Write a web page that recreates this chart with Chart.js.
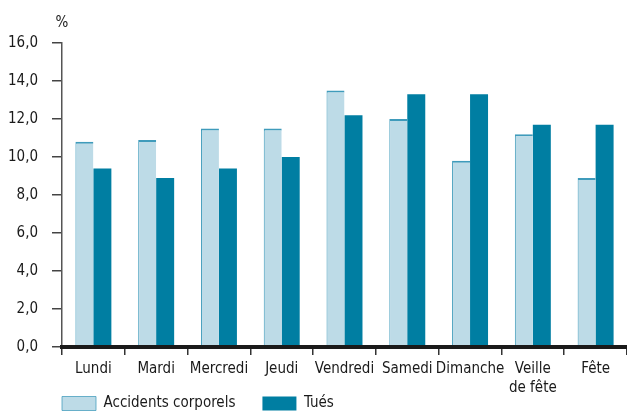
<!DOCTYPE html>
<html>
<head>
<meta charset="utf-8">
<script src="https://cdn.jsdelivr.net/npm/chart.js@4"></script>
<style>
  html, body { margin: 0; padding: 0; background: #fff; overflow: hidden; }
  #wrap { width: 627px; height: 411px; position: relative; }
</style>
</head>
<body>
<div id="wrap"><canvas id="c" width="627" height="411"></canvas></div>
<script>
const categories = ['Lundi', 'Mardi', 'Mercredi', 'Jeudi', 'Vendredi', 'Samedi', 'Dimanche', ['Veille', 'de fête'], 'Fête'];
const accidents = [10.8, 10.9, 11.5, 11.5, 13.5, 12.0, 9.8, 11.2, 8.9];
const tues = [9.4, 8.9, 9.4, 10.0, 12.2, 13.3, 13.3, 11.7, 11.7];
const seriesNames = ['Accidents corporels', 'Tués'];
const yMin = 0, yMax = 16, yStep = 2;
const unitLabel = '%';

const FONT = '"Liberation Sans Narrow", "DejaVu Sans Condensed", sans-serif';
const TEXT = '#1a1a1a';
const LEGEND_PAD = 27;

const unitPlugin = {
  id: 'unitLabel',
  afterDraw(chart) {
    const ctx = chart.ctx;
    ctx.save();
    ctx.font = '15px ' + FONT;
    ctx.fillStyle = TEXT;
    ctx.textAlign = 'center';
    ctx.textBaseline = 'middle';
    ctx.fillText(unitLabel, 62, 23);
    ctx.restore();
  }
};

const legendPlace = {
  id: 'legendPlace',
  beforeLayout(chart) {
    const lg = chart.legend;
    if (lg && !lg._patched) {
      const fit = lg.fit.bind(lg);
      lg.fit = function () { fit(); this.height = 14; };
      lg._patched = true;
    }
  },
  afterLayout(chart) {
    const lg = chart.legend;
    if (lg) {
      lg.left = 62 - LEGEND_PAD;
      lg.top = 396 - LEGEND_PAD;
      lg.bottom = 411;
      lg.height = lg.bottom - lg.top;
    }
  }
};

new Chart(document.getElementById('c'), {
  type: 'bar',
  data: {
    labels: categories,
    datasets: [
      {
        label: seriesNames[0],
        data: accidents,
        backgroundColor: '#bddbe7',
        borderColor: '#3f9bbb',
        borderWidth: { left: 1, top: 2, right: 0, bottom: 0 },
        borderSkipped: false
      },
      {
        label: seriesNames[1],
        data: tues,
        backgroundColor: '#007ea2',
        borderWidth: 0
      }
    ]
  },
  options: {
    responsive: false,
    animation: false,
    devicePixelRatio: 1,
    layout: { padding: { top: 43, left: 0, right: 0, bottom: 0 } },
    datasets: { bar: { categoryPercentage: 0.573, barPercentage: 1.0 } },
    plugins: {
      tooltip: { enabled: false },
      legend: {
        position: 'bottom',
        align: 'start',
        labels: {
          boxWidth: 34,
          boxHeight: 14,
          padding: LEGEND_PAD,
          color: TEXT,
          font: { family: FONT, size: 15 }
        }
      }
    },
    scales: {
      x: {
        grid: {
          z: 1,
          offset: true,
          drawOnChartArea: false,
          drawTicks: true,
          tickLength: 8,
          color: '#333',
          lineWidth: 1.5
        },
        border: { display: true, color: '#1a1a1a', width: 4, z: 2 },
        ticks: {
          color: TEXT,
          font: { family: FONT, size: 15, lineHeight: 1.25 },
          padding: 5,
          maxRotation: 0,
          autoSkip: false
        },
        afterFit(scale) { scale.height = 50; }
      },
      y: {
        min: yMin,
        max: yMax,
        grid: {
          drawOnChartArea: false,
          drawTicks: true,
          tickLength: 10,
          color: '#444',
          lineWidth: 1.5
        },
        border: { display: true, color: '#555', width: 1.5 },
        ticks: {
          stepSize: yStep,
          color: TEXT,
          padding: 14,
          font: { family: FONT, size: 15 },
          callback: (v) => v.toFixed(1).replace('.', ',')
        },
        afterFit(scale) { scale.width = 62; }
      }
    }
  },
  plugins: [unitPlugin, legendPlace]
});
</script>
</body>
</html>
